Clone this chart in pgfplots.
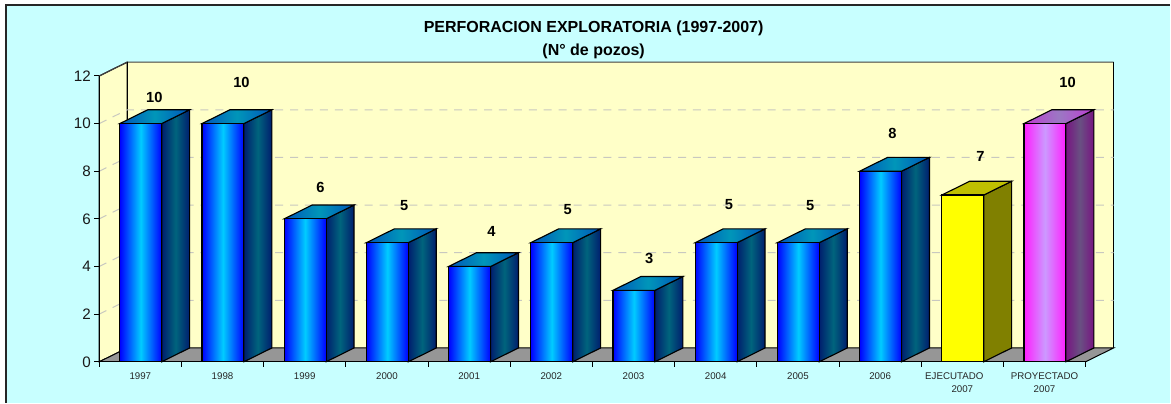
\documentclass[border=0pt]{standalone}
\usepackage{pgfplots}
\pgfplotsset{compat=1.18}
\usepackage{fontspec}
\setmainfont{Liberation Sans}
\definecolor{bgc}{HTML}{C8FFFF}
\definecolor{wallc}{HTML}{FFFFC8}
\definecolor{floorc}{HTML}{969696}
\definecolor{gridc}{HTML}{C8C8C0}
\def\dx{0.34}
\def\dy{0.58}
\def\bw{0.51}
\tikzset{
 frontB/.style={left color=blue!100,right color=blue!100,middle color=cyan!80!blue},
 sideB/.style={left color={rgb,255:red,0;green,30;blue,110},right color={rgb,255:red,0;green,30;blue,110},middle color={rgb,255:red,0;green,100;blue,125}},
 topB/.style={left color={rgb,255:red,0;green,85;blue,185},right color={rgb,255:red,0;green,85;blue,185},middle color={rgb,255:red,0;green,150;blue,185}},
 frontY/.style={fill={rgb,255:red,255;green,255;blue,0}},
 sideY/.style={fill={rgb,255:red,128;green,128;blue,0}},
 topY/.style={fill={rgb,255:red,192;green,192;blue,0}},
 frontP/.style={left color={rgb,255:red,255;green,30;blue,255},right color={rgb,255:red,255;green,30;blue,255},middle color={rgb,255:red,204;green,153;blue,255}},
 sideP/.style={left color={rgb,255:red,120;green,20;blue,130},right color={rgb,255:red,120;green,20;blue,130},middle color={rgb,255:red,105;green,80;blue,130}},
 topP/.style={left color={rgb,255:red,190;green,60;blue,210},right color={rgb,255:red,190;green,60;blue,210},middle color={rgb,255:red,155;green,120;blue,195}},
}
% one block: position, value, colour class
\newcommand{\block}[3]{%
 \pgfmathsetmacro\xa{#1+0.25}\pgfmathsetmacro\xb{\xa+\bw}%
 \pgfmathsetmacro\xc{\xb+\dx}\pgfmathsetmacro\xd{\xa+\dx}%
 \pgfmathsetmacro\yt{#2+\dy}%
 \addplot[draw=black,line width=0.85pt,line join=miter,side#3] coordinates {(\xb,0) (\xc,\dy) (\xc,\yt) (\xb,#2)} --cycle;
 \addplot[draw=black,line width=0.85pt,line join=miter,top#3] coordinates {(\xa,#2) (\xb,#2) (\xc,\yt) (\xd,\yt)} --cycle;
 \addplot[draw=black,line width=0.85pt,line join=miter,front#3] coordinates {(\xa,0) (\xb,0) (\xb,#2) (\xa,#2)} --cycle;
}
\begin{document}
\fontsize{10pt}{12pt}\selectfont
\begin{tikzpicture}[x=0.75pt,y=-0.75pt,line width=0.75pt]
\path[fill=white] (0,0) rectangle (1171,403);
\path[fill=bgc] (6,5) rectangle (1171,403);
\draw[black!85,line width=1.1pt] (6,403) -- (6,5) -- (1171,5);
\coordinate (O) at (99.3,362);
\begin{axis}[
 at={(O)},anchor=south west,
 scale only axis,width=740.25pt,height=214.5pt,
 xmin=0,xmax=12,ymin=0,ymax=12,clip=false,
 axis line style={draw=none},
 axis x line*=bottom,axis y line*=left,
 tick align=outside,
 ytick={0,2,...,12},
 xtick={0.5,1.5,...,11.5},
 minor xtick={0,...,12},
 major tick length=3.75pt,
 x tick style={draw=none},
 y tick style={black,line width=0.75pt},
 minor x tick style={draw=black,line width=0.75pt},
 minor tick length=3.75pt,
 xticklabels={1997,1998,1999,2000,2001,2002,2003,2004,2005,2006,{EJECUTADO\hspace*{12pt}\\2007},{PROYECTADO\\2007}},
 xticklabel style={font=\fontsize{7.3pt}{10pt}\selectfont,align=center,text=black!85,anchor=north,yshift=-0.9pt},
 yticklabel style={font=\fontsize{11.4pt}{12pt}\selectfont,text=black!90,/pgf/number format/assume math mode=true,xshift=1pt},
]
% walls
\addplot[fill=wallc,draw=black,line width=0.75pt] coordinates {(0,0) (\dx,\dy) (\dx,12.58) (0,12)} --cycle;
\addplot[fill=wallc,draw=none] coordinates {(\dx,\dy) (12.34,\dy) (12.34,12.58) (\dx,12.58)} --cycle;
\addplot[draw=black!75,line width=0.9pt] coordinates {(0,12) (\dx,12.58) (12.34,12.58)};
\addplot[draw=black,line width=0.75pt] coordinates {(\dx,\dy) (\dx,12.58)};
\addplot[draw=black,line width=0.75pt] coordinates {(12.34,\dy) (12.34,12.58)};
% gridlines
\addplot[gridc,line width=0.75pt,dash pattern=on 6pt off 5.2pt] coordinates {(0,2) (\dx,2.58) (12.34,2.58)};
\addplot[gridc,line width=0.75pt,dash pattern=on 6pt off 5.2pt] coordinates {(0,4) (\dx,4.58) (12.34,4.58)};
\addplot[gridc,line width=0.75pt,dash pattern=on 6pt off 5.2pt] coordinates {(0,6) (\dx,6.58) (12.34,6.58)};
\addplot[gridc,line width=0.75pt,dash pattern=on 6pt off 5.2pt] coordinates {(0,8) (\dx,8.58) (12.34,8.58)};
\addplot[gridc,line width=0.75pt,dash pattern=on 6pt off 5.2pt] coordinates {(0,10) (\dx,10.58) (12.34,10.58)};
% floor
\addplot[fill=floorc,draw=none] coordinates {(0,0) (\dx,\dy) (12.34,\dy) (12,0)} --cycle;
\addplot[draw=black,line width=0.75pt] coordinates {(\dx,\dy) (12.34,\dy) (12,0)};
\addplot[draw=black,line width=0.75pt] coordinates {(0,0) (\dx,\dy)};
\addplot[draw=black,line width=0.75pt] coordinates {(0,0) (0,12)};
\addplot[draw=black,line width=0.85pt] coordinates {(0,0) (12,0)};
% bars
\block{0}{10}{B}
\block{1}{10}{B}
\block{2}{6}{B}
\block{3}{5}{B}
\block{4}{4}{B}
\block{5}{5}{B}
\block{6}{3}{B}
\block{7}{5}{B}
\block{8}{5}{B}
\block{9}{8}{B}
\block{10}{7}{Y}
\block{11}{10}{P}
% labels
\tikzset{vl/.style={font=\bfseries\fontsize{11pt}{12pt}\selectfont,inner sep=0pt,text=black}}
\node[vl] at (axis cs:0.67,11.08) {10};
\node[vl] at (axis cs:1.73,11.71) {10};
\node[vl] at (axis cs:2.69,7.30) {6};
\node[vl] at (axis cs:3.71,6.55) {5};
\node[vl] at (axis cs:4.77,5.46) {4};
\node[vl] at (axis cs:5.70,6.38) {5};
\node[vl] at (axis cs:6.69,4.33) {3};
\node[vl] at (axis cs:7.66,6.59) {5};
\node[vl] at (axis cs:8.65,6.55) {5};
\node[vl] at (axis cs:9.65,9.57) {8};
\node[vl] at (axis cs:10.72,8.64) {7};
\node[vl] at (axis cs:11.78,11.71) {10};
\end{axis}
\node[font=\bfseries\fontsize{12pt}{15pt}\selectfont,align=center,inner sep=0pt,anchor=center] at (594,40) {PERFORACION EXPLORATORIA (1997-2007)\\[2.5pt](N° de pozos)};
\end{tikzpicture}
\end{document}
